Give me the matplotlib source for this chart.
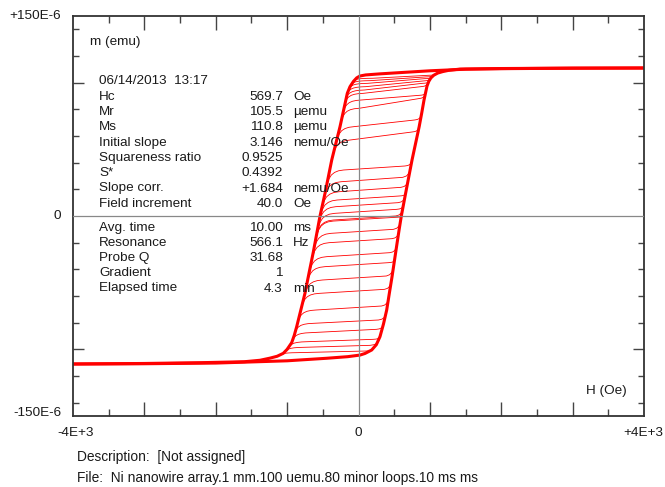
import numpy as np
import matplotlib.pyplot as plt
from matplotlib.ticker import FixedLocator

plt.rcParams['font.family'] = ['Liberation Sans', 'DejaVu Sans']

# major loop, descending branch (H in Oe, m in micro-emu)
h_down = [4000, 3000, 2000, 1500, 1000, 600, 300, 100, 20, -25, -70, -119, -157, -208, -259,
          -317, -375, -422, -469, -504, -539, -586, -633, -692, -750, -808, -866, -900, -936,
          -1000, -1054, -1140, -1240, -1380, -1600, -2200, -3000, -4000]
m_down = [111.0, 110.9, 110.6, 110.1, 108.9, 107.6, 106.6, 105.8, 105.0, 103.6, 101.0, 97.0,
          92.0, 79.5, 67.0, 54.5, 42.0, 29.5, 17.0, 8.5, 0.0, -13.5, -27.0, -42.5, -58.0, -70.5,
          -83.0, -89.5, -95.0, -100.0, -103.0, -105.2, -106.6, -108.2, -109.3, -110.0, -110.6,
          -111.0]

# major loop, ascending branch
h_up = [-4000, -3000, -2000, -1000, -446, -150, 21, 91, 185, 250, 301, 350, 395, 432, 470, 505,
        540, 570, 600, 630, 660, 705, 750, 800, 850, 885, 918, 940, 960, 985, 1015, 1055, 1110,
        1180, 1260, 1422, 2000, 3000, 4000]
m_up = [-111.0, -110.8, -110.3, -108.6, -106.7, -105.5, -104.3, -103.1, -100.5, -96.5, -90.5,
        -81.0, -70.5, -58.0, -45.5, -33.0, -20.5, -10.0, 0.0, 8.5, 17.0, 29.5, 42.0, 54.5, 67.0,
        77.0, 87.0, 92.5, 97.5, 101.0, 103.6, 105.6, 107.2, 108.3, 109.2, 110.2, 110.5, 110.85,
        111.0]

# recoil curves: reversal field and moment, flat part level at its left / right end,
# field where the flat part ends
h_rev = [-53, -88, -123, -149, -167, -182, -210, -239, -315, -366, -460, -495, -526, -549,
         -567, -584, -602, -604, -637, -660, -696, -720, -755, -796, -845, -886, -921, -978,
         -1027, -1113]
m_rev = [102.0, 99.5, 96.5, 93.0, 89.5, 86.0, 79.0, 71.8, 55.0, 44.0, 19.5, 10.7, 3.2, -3.0,
         -8.0, -13.0, -18.0, -18.8, -28.0, -34.0, -43.5, -50.0, -59.0, -68.0, -78.5, -86.5,
         -92.5, -98.3, -101.5, -104.5]
m_left = [103.3, 101.5, 99.5, 97.0, 94.5, 92.0, 87.0, 80.8, 67.0, 57.0, 34.5, 25.7, 18.2, 12.0,
          7.0, 2.0, -3.0, -3.8, -13.0, -20.0, -30.5, -38.0, -48.0, -58.0, -70.5, -80.5, -87.5,
          -94.3, -98.5, -102.5]
m_right = [105.5, 104.3, 103.0, 101.3, 99.5, 97.0, 90.5, 88.0, 72.0, 63.0, 37.5, 29.0, 21.5,
           15.0, 10.0, 5.0, 0.0, -1.0, -10.0, -17.0, -27.5, -35.0, -45.0, -55.0, -67.5, -78.0,
           -85.0, -92.5, -97.0, -101.3]
h_end = [970, 940, 925, 910, 895, 875, 850, 840, 785, 750, 650, 620, 595, 570, 555, 535, 520,
         515, 490, 470, 440, 420, 390, 365, 325, 280, 250, 205, 165, 75]

info_rows = [("Hc", "569.7", "Oe"), ("Mr", "105.5", "\u00b5emu"), ("Ms", "110.8", "\u00b5emu"),
             ("Initial slope", "3.146", "nemu/Oe"), ("Squareness ratio", "0.9525", ""),
             ("S*", "0.4392", ""), ("Slope corr.", "+1.684", "nemu/Oe"),
             ("Field increment", "40.0", "Oe")]
info_rows2 = [("Avg. time", "10.00", "ms"), ("Resonance", "566.1", "Hz"), ("Probe Q", "31.68", ""),
              ("Gradient", "1", ""), ("Elapsed time", "4.3", "min")]

# shape of the knee right after the field reversal (offset in Oe, fraction of the rise)
knee_dh = [0, 20, 45, 80, 125, 180, 250]
knee_frac = [0, 0.30, 0.55, 0.75, 0.88, 0.96, 1.0]
# shape of the bend where a recoil curve runs into the ascending branch
join_dx = [0.4, 0.7, 0.9]
join_dy = [0.08, 0.25, 0.55]

W, H = 665, 487
fig = plt.figure(figsize=(W / 100, H / 100), dpi=100)
ax = fig.add_axes([73 / W, 1 - 416 / H, 571 / W, 400 / H])


def px(x, y):
    return x / W, 1 - y / H


hd = np.array(h_down)
md = np.array(m_down)
hu = np.array(h_up)
mu = np.array(m_up)

# recoil curves: down the major branch, reverse, flat part, then back up the ascending branch
for i in range(len(h_rev)):
    sel = hd > h_rev[i]
    rise = m_left[i] - m_rev[i]
    hx = list(hd[sel]) + [h_rev[i] + d for d in knee_dh] + [h_end[i]]
    my = list(md[sel]) + [m_rev[i] + f * rise for f in knee_frac] + [m_right[i]]
    back = (hu > h_end[i] + 15) & (mu > m_right[i] + 0.5)
    hb, mb = hu[back][0], mu[back][0]
    hx += [h_end[i] + a * (hb - h_end[i]) for a in join_dx]
    my += [m_right[i] + b * (mb - m_right[i]) for b in join_dy]
    hx += list(hu[back])
    my += list(mu[back])
    ax.plot(hx, my, color='#ff0000', lw=0.6, zorder=2)

# major loop
ax.plot(h_down, m_down, color='#ff0000', lw=2.2, zorder=2)
ax.plot(h_up, m_up, color='#ff0000', lw=2.2, zorder=2)

ax.axhline(0, color='#888888', lw=0.9, zorder=3)
ax.axvline(0, color='#888888', lw=0.9, zorder=3)

ax.set_xlim(-4000, 4000)
ax.set_ylim(-150, 150)
ax.xaxis.set_major_locator(FixedLocator([-3000, -2000, -1000, 1000, 2000, 3000]))
ax.xaxis.set_minor_locator(FixedLocator([-3500, -2500, -1500, -500, 500, 1500, 2500, 3500]))
ax.yaxis.set_major_locator(FixedLocator([-100, 100]))
ax.yaxis.set_minor_locator(FixedLocator([-140, -120, -80, -60, -40, -20, 20, 40, 60, 80, 120, 140]))
ax.tick_params(which='both', direction='in', top=True, right=True, labelbottom=False,
               labelleft=False, color='#444444', width=1)
ax.tick_params(axis='x', which='major', length=10)
ax.tick_params(axis='x', which='minor', length=5)
ax.tick_params(axis='y', which='major', length=8)
ax.tick_params(axis='y', which='minor', length=4.5)
for s in ax.spines.values():
    s.set_color('#333333')
    s.set_linewidth(1.3)

fs = 9.7
tc = '#1a1a1a'
# axis end labels
fig.text(*px(61, 16), "+150E-6", ha='right', va='center', fontsize=fs, color=tc)
fig.text(*px(61, 216), "0", ha='right', va='center', fontsize=fs, color=tc)
fig.text(*px(61, 413), "-150E-6", ha='right', va='center', fontsize=fs, color=tc)
fig.text(*px(76, 433), "-4E+3", ha='center', va='center', fontsize=fs, color=tc)
fig.text(*px(358, 433), "0", ha='center', va='center', fontsize=fs, color=tc)
fig.text(*px(643, 433), "+4E+3", ha='center', va='center', fontsize=fs, color=tc)
fig.text(*px(90, 42), "m (emu)", ha='left', va='center', fontsize=fs, color=tc)
fig.text(*px(627, 391), "H (Oe)", ha='right', va='center', fontsize=fs, color=tc)

# measurement info block
fig.text(*px(99, 81), "06/14/2013  13:17", ha='left', va='center', fontsize=fs, color=tc)
for k, (name, val, unit) in enumerate(info_rows):
    y = 96.7 + 15.3 * k
    fig.text(*px(99, y), name, ha='left', va='center', fontsize=fs, color=tc)
    fig.text(*px(283, y), val, ha='right', va='center', fontsize=fs, color=tc)
    fig.text(*px(293, y), unit, ha='left', va='center', fontsize=fs, color=tc)
for k, (name, val, unit) in enumerate(info_rows2):
    y = 227.7 + 15.2 * k
    fig.text(*px(99, y), name, ha='left', va='center', fontsize=fs, color=tc)
    fig.text(*px(283, y), val, ha='right', va='center', fontsize=fs, color=tc)
    fig.text(*px(293, y), unit, ha='left', va='center', fontsize=fs, color=tc)

fig.text(*px(77, 457), "Description:  [Not assigned]", ha='left', va='center', fontsize=9.9, color=tc)
fig.text(*px(77, 478), "File:  Ni nanowire array.1 mm.100 uemu.80 minor loops.10 ms ms",
         ha='left', va='center', fontsize=9.9, color=tc)

fig.savefig('out.png', dpi=100)
